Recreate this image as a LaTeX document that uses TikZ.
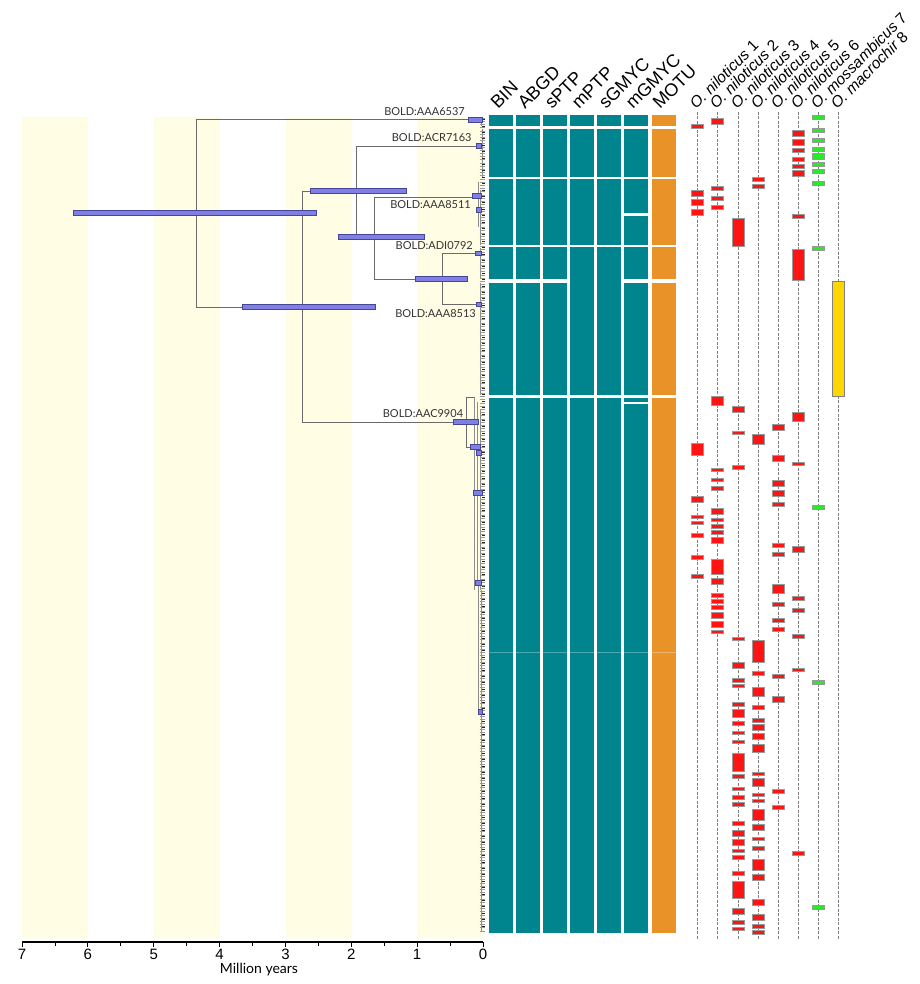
\documentclass[tikz,border=0pt]{standalone}
\usepackage{fontspec}
\setmainfont{Liberation Sans}
\newfontfamily\lato{Lato}
\definecolor{bandc}{RGB}{255,253,228}
\definecolor{tealc}{RGB}{0,133,143}
\definecolor{orngc}{RGB}{232,146,40}
\definecolor{hpdfill}{RGB}{128,128,228}
\definecolor{hpdline}{RGB}{70,70,150}
\definecolor{redc}{RGB}{255,20,20}
\definecolor{grnc}{RGB}{40,235,40}
\definecolor{ylwc}{RGB}{255,214,0}
\newcommand\mrc[4]{\draw[#1] ({#2-6},{#3-#4/2}) rectangle ({#2+6},{#3+#4/2});}
\newcommand\mrr[4]{\draw[#1] ({#2-6},{#3}) rectangle ({#2+6},{#4});}
\newcommand\hpdbar[3]{\draw[hpd] (#1,{#3-2.3}) rectangle (#2,{#3+2.3});}
\begin{document}
\begin{tikzpicture}[x=1pt,y=-1pt,
  br/.style={draw=black!58,line width=0.8pt},
  tipl/.style={draw=black!45,line width=0.5pt},
  hpd/.style={draw=hpdline,fill=hpdfill,line width=0.5pt},
  redm/.style={draw=black!40,fill=redc,line width=0.6pt},
  grnm/.style={draw=black!40,fill=grnc,line width=0.6pt},
  ylwm/.style={draw=black!50,fill=ylwc,line width=0.6pt},
  spl/.style={draw=black!50,dash pattern=on 3pt off 1.5pt,line width=0.6pt},
  hdr/.style={rotate=45,anchor=base west,font=\fontsize{18}{18}\selectfont,inner sep=0pt},
  spc/.style={rotate=45,anchor=base west,font=\fontsize{15.5}{15.5}\selectfont,inner sep=0pt},
  boldlab/.style={anchor=east,font=\lato\fontsize{11}{11}\selectfont,text=black!80,inner sep=0pt},
  axlab/.style={font=\fontsize{15}{15}\selectfont,inner sep=0pt},
]
\useasboundingbox (0,0) rectangle (919,984);
\fill[white] (0,0) rectangle (919,984);
% time bands
\foreach \a/\b in {22/88,154/220,286/352,417/483} \fill[bandc] (\a,117) rectangle (\b,938);

% ---------- tree ----------
\coordinate (R) at (196,213);
\coordinate (N1) at (302,307);
\coordinate (N2) at (356,191);
\coordinate (N3) at (374,237);
\coordinate (N4) at (442,279);
\coordinate (N9) at (466.7,422);
\coordinate (T1) at (481,119);
\coordinate (T2) at (482,146);
\coordinate (T3) at (478.3,197);
\coordinate (T4) at (480,253);
\coordinate (T5) at (480,304);
\coordinate (T6a) at (474,397);
\coordinate (T6b) at (470,447);
\draw[br] (R) |- (T1);
\draw[br] (R) |- (N1);
\draw[br] (N1) |- (N2);
\draw[br] (N1) |- (N9);
\draw[br] (N2) |- (T2);
\draw[br] (N2) |- (N3);
\draw[br] (N3) |- (T3);
\draw[br] (N3) |- (N4);
\draw[br] (N4) |- (T4);
\draw[br] (N4) |- (T5);
\draw[br] (N9) |- (T6a);
\draw[br] (N9) |- (T6b);
% tip clusters
\draw[tipl] (481,117) -- (481,126);
\draw[tipl] (482,129) -- (482,177);
\draw[tipl] (478.3,182) -- (478.3,227);
\draw[tipl] (480,190) -- (480,245);
\draw[tipl] (480,248) -- (480,279);
\draw[tipl] (480,283) -- (480,395);
\draw[tipl] (474,397) -- (474,590);
\draw[tipl] (477.7,402) -- (477.7,582);
\draw[tipl] (480,410) -- (480,590);
\draw[tipl] (478.3,582) -- (478.3,712);
\draw[tipl] (481,590) -- (481,932);
\draw[tipl] (470,447) -- (477.7,447);
\foreach \y in {118,121.2,...,932} \draw[draw=black!40,line width=0.5pt] (479.5,\y) -- (485,\y);
\foreach \y in {119.6,126,...,932} \draw[draw=black!85,line width=0.7pt] (482,\y) -- (484.5,\y);
% HPD bars
\hpdbar{73}{316}{213}
\hpdbar{242}{375}{307}
\hpdbar{310}{406}{191}
\hpdbar{338}{424}{237}
\hpdbar{415}{467}{279}
\hpdbar{453}{478}{422}
\hpdbar{468}{482}{120}
\hpdbar{476.7}{481.5}{146}
\hpdbar{472}{481.5}{196}
\hpdbar{476.7}{481.5}{210}
\hpdbar{475.7}{481.5}{253.3}
\hpdbar{476}{481.5}{304.3}
\hpdbar{470}{480}{447}
\hpdbar{476}{481.5}{453}
\hpdbar{473}{482}{493}
\hpdbar{475}{481.7}{582.7}
\hpdbar{478}{482}{711.7}
% clade labels
\node[boldlab] (L1) at (465,112) {BOLD:AAA6537};
\node[boldlab] (L2) at (471.7,138) {BOLD:ACR7163};
\node[boldlab] (L3) at (471,205) {BOLD:AAA8511};
\node[boldlab] (L4) at (473,245.7) {BOLD:ADI0792};
\node[boldlab] (L5) at (476,313.3) {BOLD:AAA8513};
\node[boldlab] (L6) at (463.3,413.3) {BOLD:AAC9904};

% axis
\draw[line width=1.3pt] (22,942) -- (483,942);
\foreach \i in {0,...,7} {
  \draw[line width=1pt] ({483-65.857*\i},942) -- ++(0,5);
  \node[axlab] at ({483-65.857*\i},954) {\i};
}
\foreach \i in {0.5,1.5,...,6.5} \draw[line width=0.8pt] ({483-65.857*\i},942) -- ++(0,4);
\node[font=\lato\fontsize{14}{14}\selectfont,inner sep=0pt] (ax) at (259,970) {Million years};

% ---------- delimitation columns ----------
\foreach \cx in {489,516,543} {
  \foreach \a/\b in {115/126,129/177,179/245,247/279,283/395,398/933}
    \fill[tealc] (\cx,\a) rectangle ({\cx+24},\b);
}
\foreach \cx in {570,597} {
  \foreach \a/\b in {115/126,129/177,179/245,247/395,398/933}
    \fill[tealc] (\cx,\a) rectangle ({\cx+24},\b);
}
\foreach \a/\b in {115/126,129/177,179/213,216/245,247/279,283/395,398/402,404/933}
  \fill[tealc] (624,\a) rectangle (648,\b);
\foreach \a/\b in {115/126,129/177,179/245,247/279,283/395,398/933}
  \fill[orngc] (652,\a) rectangle (676,\b);
\foreach \cx in {489,516,543,570,597,624,652}
  \draw[white,opacity=0.3,line width=0.6pt] (\cx,652) -- ({\cx+24},652);

\node[hdr] (hBIN) at (498,110) {BIN};
\node[hdr] (hABGD) at (525,110) {ABGD};
\node[hdr] (hsPTP) at (552,110) {sPTP};
\node[hdr] (hmPTP) at (579,110) {mPTP};
\node[hdr] (hsGMYC) at (606,110) {sGMYC};
\node[hdr] (hmGMYC) at (633,110) {mGMYC};
\node[hdr] (hMOTU) at (660,110) {MOTU};

% ---------- species columns ----------
\foreach \cx in {697,717,738,758,778,798,818,838} \draw[spl] (\cx,112) -- (\cx,940);
\node[spc] (s1) at (696,110) {\itshape O. niloticus\upshape\ 1};
\node[spc] (s2) at (716,110) {\itshape O. niloticus\upshape\ 2};
\node[spc] (s3) at (737,110) {\itshape O. niloticus\upshape\ 3};
\node[spc] (s4) at (757,110) {\itshape O. niloticus\upshape\ 4};
\node[spc] (s5) at (777,110) {\itshape O. niloticus\upshape\ 5};
\node[spc] (s6) at (797,110) {\itshape O. niloticus\upshape\ 6};
\node[spc] (s7) at (817,110) {\itshape O. mossambicus\upshape\ 7};
\node[spc] (s8) at (837,110) {\itshape O. macrochir\upshape\ 8};

% c1
\foreach \y in {126,516.7,522.7,535,557.3,576} {\mrc{redm}{697}{\y}{3.8}}
\foreach \y in {193.3,202.7,212,499.3} {\mrc{redm}{697}{\y}{6}}
\mrr{redm}{697}{443.7}{455.3}
% c2
\foreach \y in {121,511.7,540,581,615,624.3} {\mrc{redm}{717}{\y}{6}}
\foreach \y in {188.7,198,207.7,469.7,479.7,488.3,519.7,526,532,595,601,607.3,631.7} {\mrc{redm}{717}{\y}{3.8}}
\mrr{redm}{717}{396.7}{405.3}
\mrr{redm}{717}{559}{574.3}
% c3
\foreach \y in {409,665.3,833.7,842.7,911.3} {\mrc{redm}{738}{\y}{6}}
\foreach \y in {432.7,467,638.7,680,685.7,704,723,732.7,741.7,776,788.7,797.3,804,823.3,850.7,857.3,873,922.3,928.7} {\mrc{redm}{738}{\y}{3.8}}
\mrr{redm}{738}{218.7}{246}
\mrr{redm}{738}{709}{717.7}
\mrr{redm}{738}{753.3}{771.7}
\mrr{redm}{738}{881.7}{898.7}
% c4
\foreach \y in {179.3,186,673,707,720,773.7,794.7,800.7,838.7,848.3,926.3,932.3} {\mrc{redm}{758}{\y}{3.8}}
\foreach \y in {727.3,736.7,827.3,877.3,902.3,917.3} {\mrc{redm}{758}{\y}{6}}
\foreach \a/\b in {434/444,640/662,687/696.5,744/752,778.3/786.3,809/820,859.3/870.7} {\mrr{redm}{758}{\a}{\b}}
% c5
\foreach \y in {427.7,458.7,483.3,493.3,699} {\mrc{redm}{778}{\y}{6}}
\foreach \y in {504,545,554.3,604,620,629.3,676,791.3,807} {\mrc{redm}{778}{\y}{3.8}}
\mrr{redm}{778}{584}{593.3}
% c6
\foreach \y in {133.3,142.3,173.7,549.3} {\mrc{redm}{798}{\y}{6}}
\foreach \y in {150.3,159.7,166.3,216,463.7,598,610.3,636,669.7,853.3} {\mrc{redm}{798}{\y}{3.8}}
\mrr{redm}{798}{249.3}{280}
\mrr{redm}{798}{412.7}{421.7}
% c7
\foreach \y in {117.3,130,140,149,164.7,171,183.3,248.3,507.3,682.7,907} {\mrc{grnm}{818}{\y}{4}}
\mrc{grnm}{818}{156.3}{6}
% c8
\mrr{ylwm}{838}{281.3}{396.7}
\end{tikzpicture}
\end{document}
